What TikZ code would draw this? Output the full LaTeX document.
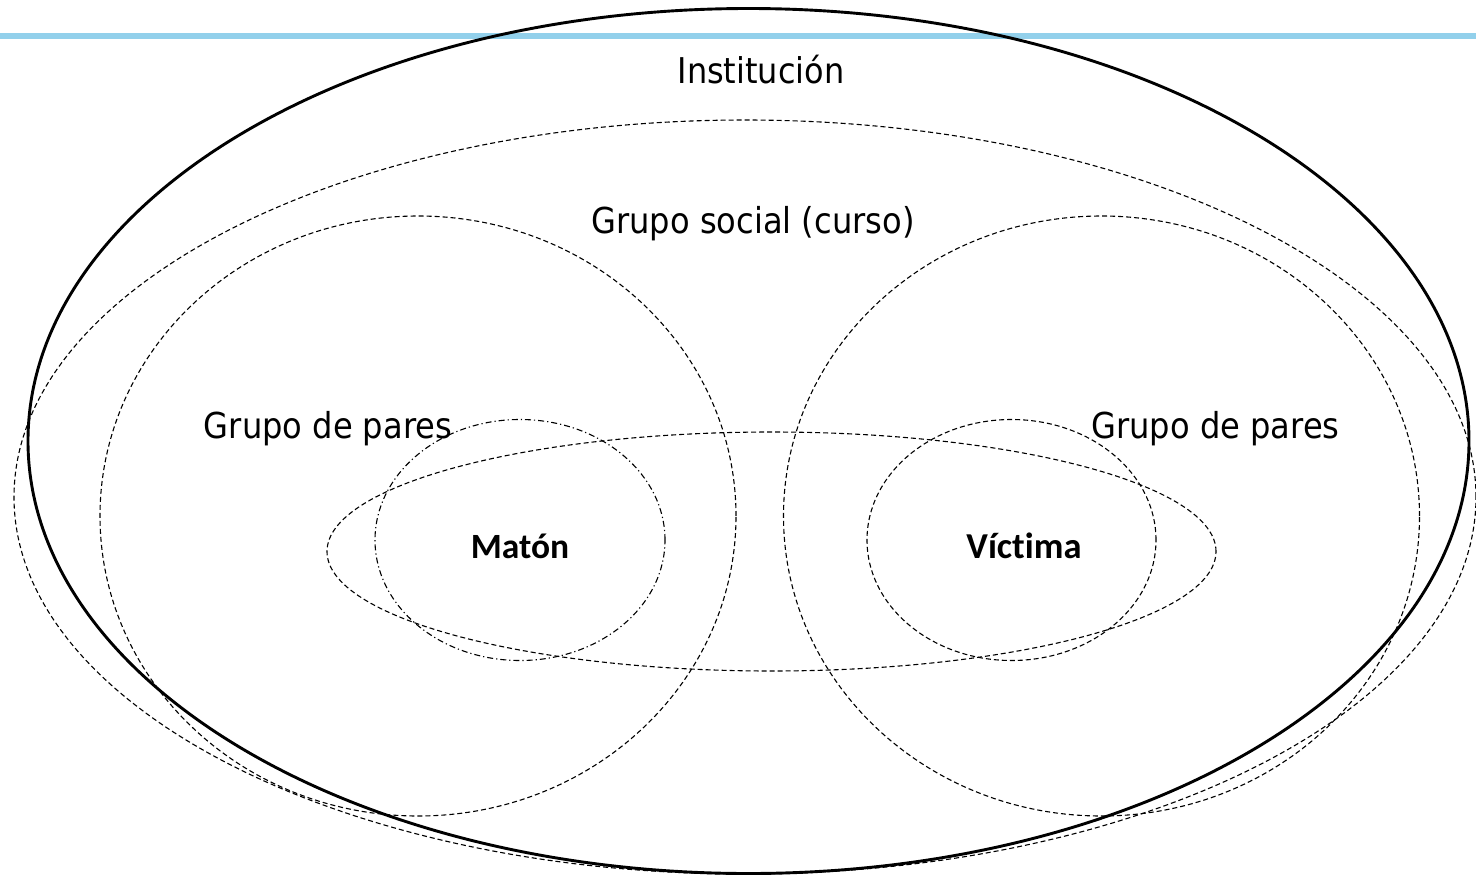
\documentclass[tikz,border=0pt]{standalone}
\usepackage{fontspec}
\setmainfont{DejaVu Sans Condensed}
\newfontfamily\boldfam[Ligatures=NoCommon]{Carlito}
\definecolor{bandblue}{RGB}{146,208,235}
\begin{document}
\begin{tikzpicture}[x=1pt,y=-1pt,
  solidring/.style={line width=2.9pt},
  dashring/.style={line width=1.1pt, dash pattern=on 5pt off 3pt},
  dashdotring/.style={line width=1.1pt, dash pattern=on 6pt off 3pt on 1.2pt off 3pt},
  lbl/.style={inner sep=0pt, anchor=base, font=\fontsize{35.7}{42}\selectfont},
  boldlbl/.style={inner sep=0pt, anchor=base, font=\boldfam\bfseries\fontsize{35.5}{42}\selectfont}]
\useasboundingbox (0,0) rectangle (1476,876);
% top band
\coordinate (bandL) at (0,36);
\coordinate (bandR) at (1476,36);
\draw[bandblue, line width=6pt] (bandL) -- (bandR);
% centres
\coordinate (cInst) at (748.5,441);
\coordinate (cSoc) at (745,497);
\coordinate (cParL) at (418,516);
\coordinate (cParR) at (1101.5,516);
\coordinate (cMid) at (771.5,551.5);
\coordinate (cMat) at (520,540);
\coordinate (cVic) at (1011.5,540);
% rings
\draw[dashring] (cSoc) ellipse [x radius=731pt, y radius=377pt];
\draw[dashring] (cParL) ellipse [x radius=318pt, y radius=300pt];
\draw[dashring] (cParR) ellipse [x radius=318pt, y radius=300pt];
\draw[dashring] (cMid) ellipse [x radius=444.5pt, y radius=119.5pt];
\draw[dashdotring] (cMat) ellipse [x radius=145pt, y radius=120.5pt];
\draw[dashring] (cVic) ellipse [x radius=144.5pt, y radius=120.5pt];
\draw[solidring] (cInst) ellipse [x radius=720.5pt, y radius=432.5pt];
% labels
\node[lbl, font=\fontsize{35.5}{42}\selectfont] (tInst) at (761,83) {Institución};
\node[lbl] (tSoc) at (753,233) {Grupo social (curso)};
\node[lbl] (tParL) at (328,438) {Grupo de pares};
\node[lbl] (tParR) at (1215.5,438) {Grupo de pares};
\node[boldlbl] (tMat) at (520,558) {Matón};
\node[boldlbl, font=\boldfam\bfseries\fontsize{36.5}{42}\selectfont] (tVic) at (1024,558) {Víctima};
\end{tikzpicture}
\end{document}
